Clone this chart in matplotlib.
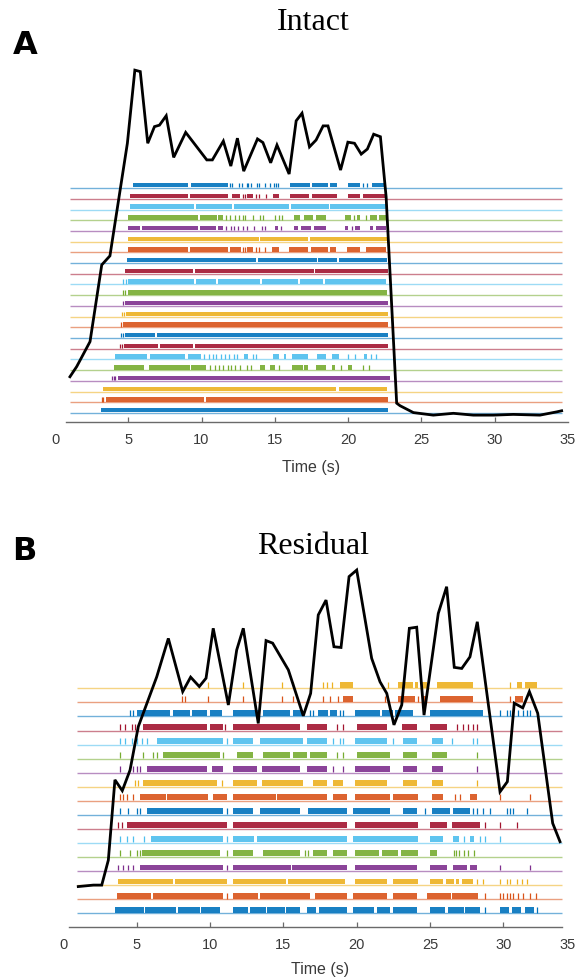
import matplotlib
matplotlib.use('Agg')
import matplotlib.pyplot as plt
from matplotlib.transforms import ScaledTranslation

colors = ['#0072BD', '#D95319', '#EDB120', '#7E2F8E', '#77AC30', '#4DBEEE', '#A2142F']

# ---------------- Panel A: Intact ----------------
intact_time = [1.02, 1.48, 2.39, 3.19, 3.75, 4.94, 5.45, 5.82, 6.33, 6.79, 7.13, 7.59, 8.10, 8.92,
               10.36, 10.74, 11.49, 12.0, 12.45, 12.88, 13.82, 14.19, 14.72, 15.15, 15.98, 16.46,
               16.86, 17.37, 17.82, 18.3, 18.63, 19.49, 19.99, 20.44, 20.9, 21.32, 21.75, 22.21,
               22.6, 23.32, 23.55, 24.46, 25.82, 27.19, 28.55, 29.92, 31.28, 33.1, 34.25, 34.58]
intact_rate = [12.5, 15.3, 22.2, 43.4, 45.9, 77.0, 97.2, 96.8, 77.0, 81.6, 82.0, 84.6, 73.1, 80.0,
               72.4, 72.4, 77.6, 70.7, 78.4, 69.3, 78.2, 77.2, 71.6, 76.5, 68.5, 83.2,
               85.3, 76.0, 77.9, 81.8, 81.8, 69.6, 77.3, 77.0, 74.0, 75.4, 79.5, 78.8,
               62.2, 5.2, 4.5, 2.6, 1.9, 2.4, 1.9, 1.9, 2.1, 1.9, 2.8, 3.1]

# dense spiking periods (s), rows from bottom (1) to top (22)
intact_dense = [
    [[3.14, 22.75]],
    [[3.45, 10.2], [10.3, 22.75]],
    [[3.25, 19.2], [19.35, 22.64]],
    [[4.3, 22.87]],
    [[4.03, 6.1], [6.4, 9.2], [9.3, 10.3], [14.0, 14.3], [14.7, 15.0], [16.2, 16.9], [17.0, 17.3],
     [17.8, 18.5], [18.9, 19.1], [20.0, 20.3]],
    [[4.10, 6.3], [6.45, 8.9], [9.1, 9.95], [12.9, 13.2], [14.9, 15.3], [15.6, 15.8], [16.2, 17.3],
     [17.9, 18.5], [18.9, 19.4], [21.1, 21.3]],
    [[4.7, 7.05], [7.15, 9.45], [9.55, 22.75]],
    [[4.8, 6.85], [6.95, 22.75]],
    [[4.65, 22.75]],
    [[4.85, 22.75]],
    [[4.8, 22.75]],
    [[4.95, 22.64]],
    [[5.0, 9.5], [9.6, 11.0], [11.1, 14.0], [14.1, 16.6], [16.7, 18.3], [18.4, 22.6]],
    [[4.78, 9.45], [9.55, 17.65], [17.75, 22.75]],
    [[4.89, 13.75], [13.85, 17.85], [17.95, 19.25], [19.35, 22.64]],
    [[5.01, 9.1], [9.2, 11.83], [11.95, 12.7], [13.1, 13.5], [14.8, 15.3], [15.95, 17.3], [17.5, 18.6],
     [18.75, 19.2], [19.9, 20.8], [21.2, 22.6]],
    [[5.01, 13.9], [14.0, 17.3], [17.4, 22.64]],
    [[5.01, 5.8], [5.92, 9.78], [9.9, 11.0], [11.1, 11.5], [15.0, 15.2], [16.3, 16.6], [16.8, 17.5],
     [17.7, 18.5], [19.8, 20.0], [20.5, 20.8], [21.5, 21.7], [21.9, 22.6]],
    [[5.01, 9.78], [9.9, 11.04], [11.15, 11.5], [16.3, 16.7], [17.0, 17.6], [17.8, 18.5], [19.8, 20.2],
     [20.6, 20.8], [21.5, 22.0], [22.1, 22.6]],
    [[5.12, 9.5], [9.6, 12.1], [12.2, 16.0], [16.1, 18.7], [18.8, 22.64]],
    [[5.12, 9.10], [9.21, 11.83], [12.06, 12.6], [13.1, 13.5], [14.9, 15.3], [16.04, 17.35],
     [17.55, 19.23], [20.0, 20.8], [21.0, 22.55]],
    [[5.35, 9.10], [9.26, 11.83], [16.04, 17.41], [17.52, 18.66], [18.77, 19.23], [20.02, 20.82],
     [21.62, 22.53]],
]
intact_spikes = [
    [],
    [3.18, 3.3],
    [],
    [3.91, 4.0, 4.1],
    [10.6, 10.9, 11.2, 11.5, 11.8, 12.0, 12.3, 12.6, 13.1, 13.4, 15.3, 19.5, 21.0, 21.4],
    [10.2, 10.5, 10.8, 11.0, 11.3, 11.6, 11.9, 12.2, 12.4, 13.5, 13.7, 20.0, 20.5, 21.6, 21.9],
    [4.44, 4.55],
    [4.51, 4.62],
    [4.5],
    [4.55, 4.7],
    [4.62],
    [4.66, 4.8],
    [4.66, 4.85],
    [],
    [],
    [12.85, 13.0, 13.7, 13.95, 14.3],
    [],
    [11.7, 12.0, 12.2, 12.5, 12.8, 13.1, 13.55, 14.1, 14.3, 15.4, 20.3],
    [11.7, 11.95, 12.3, 12.55, 12.8, 13.0, 13.5, 14.0, 14.2, 15.0, 15.3, 15.5, 20.4, 21.2],
    [],
    [12.8, 13.0, 13.7, 13.9, 14.4],
    [11.95, 12.1, 12.55, 12.75, 13.1, 13.2, 13.35, 13.8, 13.95, 14.35, 14.7, 14.95, 15.1, 15.2,
     21.05, 21.3],
]

# ---------------- Panel B: Residual ----------------
res_time = [1.02, 2.05, 2.62, 3.07, 3.52, 4.02, 4.55, 5.11, 6.37, 7.16, 8.14, 8.68, 9.27, 9.73, 10.22,
            11.25, 11.82, 12.27, 13.29, 13.82, 14.27, 15.34, 16.36, 16.86, 17.38, 17.91, 18.45, 18.93,
            19.48, 20.0, 21.02, 21.59, 22.05, 22.54, 23.07, 23.59, 24.09, 24.59, 25.56, 26.13, 26.65,
            27.16, 27.72, 28.22, 29.77, 30.27, 30.74, 31.32, 31.77, 32.34, 33.36, 33.86]
res_rate = [11.1, 11.5, 11.5, 18.4, 40.6, 37.6, 43.3, 55.3, 69.1, 79.7, 65.0, 69.0, 66.4, 68.7, 82.5,
            61.3, 76.5, 82.5, 56.2, 79.1, 78.4, 71.0, 58.3, 64.5, 86.2, 90.3, 77.4, 77.2,
            96.8, 98.6, 74.2, 67.7, 64.5, 55.8, 61.3, 82.5, 82.8, 58.5, 86.6, 94.0, 71.7,
            71.4, 74.6, 84.3, 37.3, 40.1, 61.8, 60.5, 65.0, 59.0, 28.6, 23.5]

res_dense = [
    [[3.52, 5.5], [5.6, 7.7], [7.8, 9.3], [9.4, 10.68], [11.59, 12.6], [12.7, 13.8], [13.9, 15.1],
     [15.2, 16.14], [16.59, 17.2], [17.4, 19.32], [19.77, 21.2], [21.4, 22.3], [22.5, 24.09],
     [25.0, 26.0], [26.2, 27.3], [27.4, 28.41], [29.77, 30.4], [30.6, 31.2], [31.5, 32.1]],
    [[3.64, 6.0], [6.1, 10.91], [11.59, 13.3], [13.4, 16.82], [17.16, 19.32], [19.77, 22.04],
     [22.5, 24.09], [24.77, 26.4], [26.5, 28.29]],
    [[3.75, 7.5], [7.6, 11.14], [11.59, 15.2], [15.3, 19.2], [19.88, 22.04], [22.5, 24.2],
     [25.0, 25.9], [26.1, 26.6], [26.8, 27.0], [27.2, 27.9]],
    [[5.23, 10.91], [11.59, 15.5], [15.6, 19.32], [19.88, 24.09], [25.0, 26.13], [26.59, 27.5],
     [27.72, 28.18]],
    [[5.34, 10.68], [11.59, 12.95], [13.64, 16.14], [17.05, 17.95], [18.41, 19.32], [19.88, 21.5],
     [21.7, 22.8], [23.0, 24.2], [25.0, 25.5]],
    [[6.0, 10.91], [11.59, 13.0], [13.2, 19.32], [19.77, 24.2], [25.0, 25.91], [26.59, 27.0],
     [27.72, 28.0]],
    [[4.32, 11.14], [11.59, 19.32], [19.88, 24.2], [25.0, 26.13], [26.47, 28.41]],
    [[5.68, 10.91], [11.59, 12.95], [13.41, 16.14], [16.7, 19.32], [19.77, 22.27], [23.18, 24.09],
     [25.11, 26.36], [26.59, 27.72]],
    [[5.23, 7.0], [7.1, 9.89], [10.23, 11.14], [11.59, 14.5], [14.6, 17.95], [18.41, 19.32],
     [19.88, 22.3], [22.5, 24.2], [25.11, 25.91], [27.72, 28.18]],
    [[5.46, 10.45], [11.59, 13.18], [13.52, 16.36], [17.05, 17.95], [18.41, 19.09], [19.88, 22.04],
     [23.18, 24.09], [25.11, 25.91]],
    [[5.68, 9.77], [10.11, 10.91], [11.59, 13.18], [13.52, 16.14], [16.59, 17.95], [19.88, 22.27],
     [23.18, 24.09], [25.11, 25.91]],
    [[6.82, 10.68], [11.82, 12.95], [13.64, 15.45], [15.68, 16.59], [16.82, 17.95], [20.0, 22.27],
     [23.18, 24.09], [25.11, 26.13]],
    [[6.36, 10.91], [11.59, 12.95], [13.41, 16.36], [16.59, 17.95], [19.88, 22.04], [23.18, 24.09],
     [25.11, 25.91]],
    [[5.46, 9.77], [10.0, 10.91], [11.59, 16.14], [16.59, 17.95], [20.0, 22.04], [23.07, 24.09],
     [25.0, 26.13]],
    [[5.0, 7.27], [7.5, 8.64], [8.75, 9.77], [10.0, 10.8], [11.59, 13.41], [13.64, 15.45],
     [15.68, 16.36], [17.39, 18.07], [18.18, 18.64], [19.88, 21.59], [21.7, 22.5], [22.61, 23.86],
     [25.0, 28.63]],
    [[19.09, 19.77], [22.84, 23.97], [24.54, 24.77], [25.68, 27.95], [30.79, 31.36]],
    [[18.86, 19.77], [22.84, 23.86], [23.97, 24.2], [24.43, 24.77], [25.45, 27.95], [30.91, 31.25],
     [31.47, 32.27]],
]
res_spikes = [
    [28.75, 32.3],
    [11.14, 28.75, 29.77, 30.0, 30.22, 30.45, 30.68, 31.02, 31.36, 31.8, 32.2],
    [28.2, 28.63, 29.77, 30.22, 30.45, 30.91, 31.25, 31.59],
    [3.75, 4.09, 4.43, 4.77, 11.14, 29.77, 31.81],
    [3.86, 4.55, 5.0, 5.23, 11.14, 16.5, 16.7, 26.6, 26.8, 27.0, 27.3, 27.6, 28.0],
    [3.86, 4.32, 4.77, 5.5, 11.14, 27.3, 28.4, 28.75, 29.77],
    [3.75, 3.98, 28.75, 29.77, 30.91],
    [3.86, 4.43, 5.0, 5.23, 11.14, 24.66, 27.95, 28.18, 28.63, 29.09, 30.22, 30.45, 30.68, 31.59],
    [3.86, 4.09, 4.32, 4.77, 26.7, 27.04, 29.77, 31.81],
    [4.89, 5.11, 10.8, 28.18],
    [3.86, 4.77, 5.0, 5.23, 18.41, 19.09, 28.18],
    [3.86, 5.46, 6.14, 6.36, 10.91, 18.64, 19.09, 28.18],
    [3.86, 4.21, 4.66, 5.0, 5.34, 5.68, 11.14, 18.41, 18.86, 19.09, 22.5, 26.47, 27.95, 28.18],
    [3.86, 4.21, 4.66, 4.89, 5.11, 11.02, 18.64, 19.09, 26.81, 27.27, 27.61, 27.95, 28.18],
    [4.55, 4.77, 16.82, 17.05, 18.86, 19.09, 29.77, 30.22, 30.45, 30.68, 31.02, 31.36, 31.59, 31.81],
    [8.07, 8.3, 9.89, 12.27, 14.89, 15.68, 17.73, 18.18, 18.75, 21.93, 24.2, 30.45],
    [9.89, 12.27, 14.89, 15.68, 17.73, 17.95, 18.29, 22.16, 30.45],
]

xticks = [0, 5, 10, 15, 20, 25, 30, 35]

W, H = 579, 977
fig = plt.figure(figsize=(W / 100, H / 100), dpi=100)


def make_panel(rect, ylim, dense, spikes, span, spine_bounds, t, r, h0, h1, labelpad, last_shift):
    ax = fig.add_axes(rect)
    ax.set_xlim(0, 35)
    ax.set_ylim(*ylim)
    for i in range(len(dense)):
        k = i + 1
        c = colors[i % 7]
        ax.hlines(k, span[0], span[1], color=c, lw=1.0, alpha=0.55, zorder=1)
        segs = [(s, e - s) for s, e in dense[i]]
        ax.broken_barh(segs, (k + h0, h1 - h0), facecolors=c, edgecolor='none', alpha=0.9, zorder=2)
        if spikes[i]:
            ax.vlines(spikes[i], k + h0, k + h1, color=c, lw=0.9, zorder=2)
    for s in ['top', 'left', 'right']:
        ax.spines[s].set_visible(False)
    ax.spines['bottom'].set_bounds(*spine_bounds)
    ax.spines['bottom'].set_color('#6a6a6a')
    ax.spines['bottom'].set_linewidth(1.0)
    ax.set_yticks([])
    ax.set_xticks(xticks)
    ax.set_xticklabels([str(v) for v in xticks], fontfamily='Liberation Sans')
    ax.tick_params(axis='x', direction='in', length=3.5, width=0.9, color='#6a6a6a',
                   labelsize=10.5, labelcolor='#3a3a3a', pad=8)
    for tk, v in zip(ax.xaxis.get_major_ticks(), xticks):
        if v in (0, 35):
            tk.tick1line.set_visible(False)
    if last_shift:
        lab = ax.get_xticklabels()[-1]
        lab.set_transform(lab.get_transform() + ScaledTranslation(-last_shift / 100, 0, fig.dpi_scale_trans))
    ax.set_xlabel('Time (s)', fontsize=11.5, color='#3a3a3a', family='Liberation Sans', labelpad=labelpad)
    ax.patch.set_alpha(0)
    ax2 = ax.twinx()
    ax2.set_ylim(0, 100)
    ax2.plot(t, r, color='black', lw=2.0, solid_joinstyle='miter', zorder=5)
    ax2.axis('off')
    return ax


# Panel A
make_panel([55 / W, 1 - 422 / H, 512.8 / W, 362 / H], (0.16, 33.96), intact_dense, intact_spikes,
           (1.0, 34.6), (0.75, 35), intact_time, intact_rate, 0.06, 0.47, 9, 0)
# Panel B
make_panel([63.3 / W, 1 - 926.7 / H, 513.45 / W, 361.7 / H], (0.047, 25.77), res_dense, res_spikes,
           (0.95, 33.97), (0.4, 34), res_time, res_rate, 0.05, 0.47, 7, 9)

fig.text(313 / W, 1 - 22 / H, 'Intact', ha='center', va='center', fontsize=23, family='Liberation Serif')
fig.text(313 / W, 1 - 547 / H, 'Residual', ha='center', va='center', fontsize=23, family='Liberation Serif')
fig.text(25 / W, 1 - 45 / H, 'A', ha='center', va='center', fontsize=23, fontweight='bold', family='DejaVu Sans')
fig.text(24 / W, 1 - 551 / H, 'B', ha='center', va='center', fontsize=23, fontweight='bold', family='DejaVu Sans')

fig.savefig('out.png', dpi=100)
